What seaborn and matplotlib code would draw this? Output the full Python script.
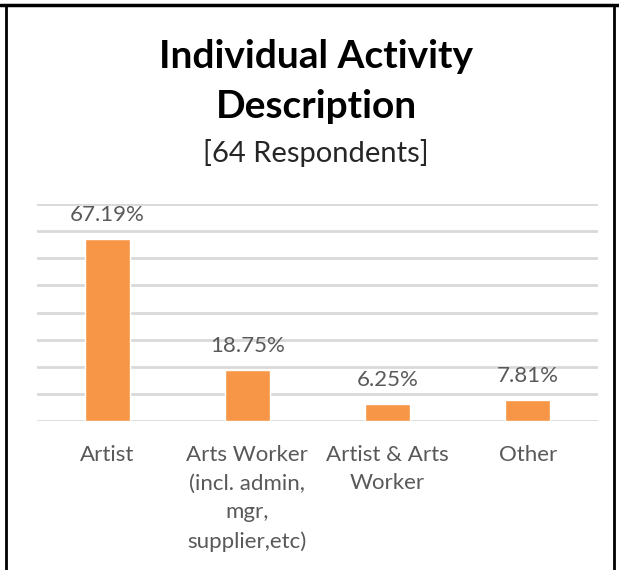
import matplotlib
matplotlib.use("Agg")
import matplotlib.pyplot as plt
import seaborn as sns
import pandas as pd

categories = ["Artist", "Arts Worker\n(incl. admin,\nmgr,\nsupplier,etc)", "Artist & Arts\nWorker", "Other"]
values = [67.19, 18.75, 6.25, 7.81]
labels = ["67.19%", "18.75%", "6.25%", "7.81%"]

sns.set_theme(style="white")
plt.rcParams['font.family'] = ['Lato', 'DejaVu Sans']

df = pd.DataFrame({"cat": categories, "val": values})

fig = plt.figure(figsize=(6.19, 5.70), dpi=100)
ax = fig.add_axes([37/619, 1 - 421/570, (598 - 37)/619, (421 - 204)/570])

sns.barplot(data=df, x="cat", y="val", color="#F79646", width=0.32, ax=ax, saturation=1)

ax.set_ylim(0, 80)
ax.set_yticks(range(0, 81, 10))
ax.yaxis.grid(True, color="#D9D9D9", linewidth=2)
ax.set_axisbelow(True)
for s in ax.spines.values():
    s.set_visible(False)
ax.set_xlabel("")
ax.set_ylabel("")
ax.set_yticklabels([])
ax.tick_params(axis="y", length=0)
ax.tick_params(axis="x", length=0, pad=17, colors="#595959", labelsize=16)
for t in ax.get_xticklabels():
    t.set_linespacing(1.55)
    t.set_verticalalignment("top")

for i, (v, lab) in enumerate(zip(values, labels)):
    ax.annotate(lab, (i, v), xytext=(0, 10), textcoords="offset points",
                ha="center", va="bottom", fontsize=16, color="#595959")

fig.text(316/619, 1 - 57/570, "Individual Activity", ha="center", va="center",
         fontsize=28, fontweight="bold", color="black")
fig.text(316/619, 1 - 106/570, "Description", ha="center", va="center",
         fontsize=28, fontweight="bold", color="black")
fig.text(316/619, 1 - 153/570, "[64 Respondents]", ha="center", va="center",
         fontsize=21, color="#262626")

# border lines (top, left, right)
fig.add_artist(plt.Line2D([0, 1], [1 - 4.5/570, 1 - 4.5/570], transform=fig.transFigure, color="black", linewidth=2.5))
fig.add_artist(plt.Line2D([5.5/619, 5.5/619], [0, 1 - 4.5/570], transform=fig.transFigure, color="black", linewidth=2))
fig.add_artist(plt.Line2D([614/619, 614/619], [0, 1 - 4.5/570], transform=fig.transFigure, color="black", linewidth=2))

fig.savefig("out.png", dpi=100)
